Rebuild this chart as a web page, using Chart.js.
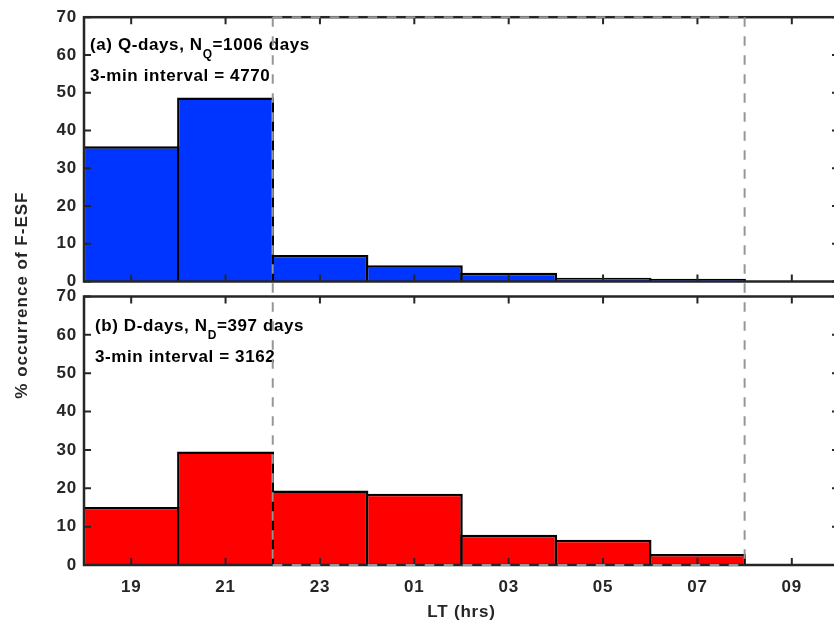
<!DOCTYPE html>
<html>
<head>
<meta charset="utf-8">
<script src="https://cdn.jsdelivr.net/npm/chart.js@4.4.1/dist/chart.umd.min.js"></script>
<style>
  html, body { margin: 0; padding: 0; background: #fff; overflow: hidden; }
  #wrap { position: relative; width: 834px; height: 623px; overflow: hidden; }
  canvas { position: absolute; left: 0; top: 0; }
</style>
</head>
<body>
<div id="wrap">
  <canvas id="qChart" width="846" height="623"></canvas>
  <canvas id="dChart" width="846" height="623"></canvas>
</div>
<script>
// 2-hour bins, centred on these hours (25 = 01 LT next day, etc.)
const binCenters = [19, 21, 23, 25, 27, 29, 31];
const qDaysPct = [35.8, 48.7, 7.0, 4.3, 2.3, 1.0, 0.7];
const dDaysPct = [15.1, 29.6, 19.4, 18.6, 7.9, 6.6, 2.9];

const xTickValues = [19, 21, 23, 25, 27, 29, 31, 33];
const xTickLabels = ["19", "21", "23", "01", "03", "05", "07", "09"];
const xRange = [18, 34];
const yRange = [0, 70];
const yStep = 10;
const windowHours = [22, 32];   // dashed box edges

const qLabel = [["(a) Q-days, N", "Q", "=1006 days"], ["3-min interval = 4770"]];
const dLabel = [["(b) D-days, N", "D", "=397 days"], ["3-min interval = 3162"]];
const xTitle = "LT (hrs)";
const yTitle = "% occurrence of F-ESF";

const FONT = "'Liberation Sans', Arial, Helvetica, sans-serif";
const INK = "#262626";

Chart.defaults.font.family = FONT;
Chart.defaults.font.weight = "bold";
Chart.defaults.font.size = 17;
Chart.defaults.color = INK;

let qChart = null;

// matlab-ish text is a bit wider than Arial
const spacing = {
  id: "spacing",
  beforeLayout(chart) { chart.ctx.letterSpacing = "0.8px"; },
  beforeDraw(chart) { chart.ctx.letterSpacing = "0.8px"; }
};

// box + inward ticks on all four sides
const frame = {
  id: "frame",
  afterDraw(chart) {
    const { ctx, chartArea: a, scales: { x, y } } = chart;
    ctx.save();
    ctx.strokeStyle = INK;
    ctx.lineWidth = 2;
    ctx.beginPath();
    xTickValues.forEach(v => {
      const px = x.getPixelForValue(v);
      ctx.moveTo(px, a.top); ctx.lineTo(px, a.top + 7);
      ctx.moveTo(px, a.bottom); ctx.lineTo(px, a.bottom - 7);
    });
    for (let v = yRange[0]; v <= yRange[1]; v += yStep) {
      const py = y.getPixelForValue(v);
      ctx.moveTo(a.left, py); ctx.lineTo(a.left + 7, py);
      ctx.moveTo(a.right, py); ctx.lineTo(a.right - 7, py);
    }
    ctx.stroke();
    ctx.lineWidth = 2.5;
    ctx.strokeRect(a.left, a.top, a.right - a.left, a.bottom - a.top);
    ctx.restore();
  }
};

// panel annotation, second item of first line is a subscript
const panelText = {
  id: "panelText",
  afterDraw(chart, args, opts) {
    const { ctx, chartArea: a } = chart;
    ctx.save();
    ctx.fillStyle = "#000";
    ctx.textBaseline = "middle";
    ctx.letterSpacing = "0.6px";
    opts.lines.forEach((parts, i) => {
      let x = a.left + opts.dx;
      const y = a.top + opts.dy[i];
      parts.forEach((t, j) => {
        const sub = parts.length > 1 && j === 1;
        ctx.font = "bold " + (sub ? 12 : 17) + "px " + FONT;
        ctx.fillText(t, x, sub ? y + 9 : y);
        x += ctx.measureText(t).width;
      });
    });
    ctx.restore();
  }
};

// dashed box spanning both panels + shared y title (drawn on the upper canvas)
const overlay = {
  id: "overlay",
  afterDraw(chart) {
    if (!qChart) return;
    const { ctx, chartArea: a, scales: { x } } = chart;
    const top = qChart.chartArea.top;
    const [x0, x1] = windowHours.map(h => x.getPixelForValue(h));
    ctx.save();
    ctx.strokeStyle = "#969696";
    ctx.lineWidth = 2;
    ctx.setLineDash([9.5, 9.5]);
    ctx.beginPath();
    ctx.moveTo(x0, top); ctx.lineTo(x1, top);
    ctx.moveTo(x0, top); ctx.lineTo(x0, a.bottom);
    ctx.moveTo(x1, top); ctx.lineTo(x1, a.bottom);
    ctx.moveTo(x0, a.bottom); ctx.lineTo(x1, a.bottom);
    ctx.stroke();
    ctx.setLineDash([]);

    ctx.fillStyle = INK;
    ctx.font = "bold 17px " + FONT;
    ctx.letterSpacing = "1px";
    ctx.textAlign = "center";
    ctx.textBaseline = "middle";
    ctx.translate(22.5, (top + a.bottom) / 2 + 4);
    ctx.rotate(-Math.PI / 2);
    ctx.fillText(yTitle, 0, 0);
    ctx.restore();
  }
};

function panelConfig(values, color, showX, padding, text) {
  return {
    type: "bar",
    data: {
      datasets: [{
        data: binCenters.map((c, i) => ({ x: c, y: values[i] })),
        backgroundColor: color,
        borderColor: "#000",
        borderWidth: 2.5,
        barPercentage: 1.027,
        categoryPercentage: 1
      }]
    },
    options: {
      responsive: false,
      animation: false,
      devicePixelRatio: 1,
      layout: { padding: padding },
      plugins: {
        legend: { display: false },
        tooltip: { enabled: false },
        panelText: text
      },
      scales: {
        x: {
          type: "linear",
          min: xRange[0],
          max: xRange[1],
          offset: false,
          display: showX,
          grid: { display: false, drawTicks: false, offset: false },
          border: { display: false },
          afterBuildTicks: s => { s.ticks = xTickValues.map(v => ({ value: v })); },
          ticks: {
            padding: 12,
            maxRotation: 0,
            autoSkip: false,
            callback: (v, i) => xTickLabels[i]
          },
          title: { display: showX, text: xTitle, padding: { top: 0, bottom: 0 } },
          afterFit: s => { if (showX) s.height = 58; }
        },
        y: {
          min: yRange[0],
          max: yRange[1],
          grid: { display: false, drawTicks: false },
          border: { display: false },
          ticks: { stepSize: yStep, padding: 7 },
          afterFit: s => { s.width = 84; }
        }
      }
    },
    plugins: [spacing, frame, panelText]
  };
}

qChart = new Chart(
  document.getElementById("qChart"),
  panelConfig(qDaysPct, "#0035ff", false,
    { top: 15, bottom: 341.5, left: 0, right: 7 },
    { lines: qLabel, dx: 6, dy: [28, 59] })
);

const dCfg = panelConfig(dDaysPct, "#ff0000", true,
  { top: 296.5, bottom: 0, left: 0, right: 7 },
  { lines: dLabel, dx: 11, dy: [30, 61] });
dCfg.plugins.push(overlay);
const dChart = new Chart(document.getElementById("dChart"), dCfg);
</script>
</body>
</html>
